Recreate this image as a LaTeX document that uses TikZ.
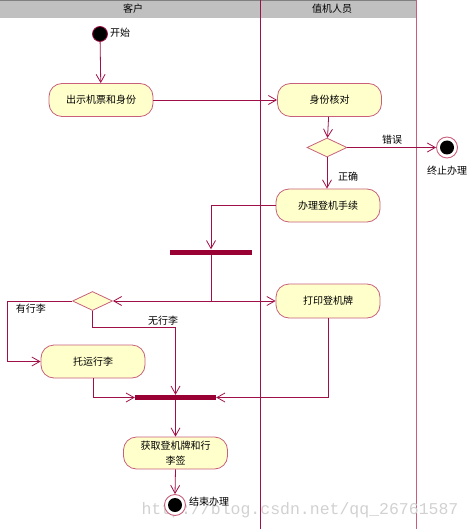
\documentclass[tikz,border=0pt]{standalone}
\usepackage{fontspec}
\newfontfamily\cjk{Noto Sans CJK SC}
\newfontfamily\wmfont{Liberation Mono}
\usetikzlibrary{arrows.meta,shapes.geometric}
\definecolor{lineC}{HTML}{A01048}
\definecolor{borderC}{HTML}{C8607C}
\definecolor{fillC}{HTML}{FFFFCC}
\definecolor{barC}{HTML}{990033}
\definecolor{headC}{HTML}{C0C0C0}
\begin{document}
\begin{tikzpicture}[x=1pt,y=-1pt,
  every node/.style={font=\cjk\fontsize{10}{13}\selectfont},
  act/.style={draw=borderC,fill=fillC,line width=0.8pt,rounded corners=13pt,minimum width=104pt,minimum height=33pt,inner sep=1pt,align=center},
  dec/.style={draw=borderC,fill=fillC,line width=0.8pt,diamond,aspect=2.1,minimum width=40pt,minimum height=19pt,inner sep=0pt},
  bar/.style={fill=barC,draw=none,minimum width=82pt,minimum height=5pt,inner sep=0pt},
  flow/.style={draw=lineC,line width=0.8pt,-{Straight Barb[length=8pt,width=9pt]}},
  line/.style={draw=lineC,line width=0.8pt},
  lbl/.style={inner sep=1pt},
  startC/.style={circle,fill=black,draw=lineC,line width=0.8pt,minimum size=15pt,inner sep=0pt},
  endC/.style={circle,draw=borderC,line width=0.9pt,fill=white,minimum size=21pt,inner sep=0pt,
     path picture={\fill[black] (path picture bounding box.center) circle (7pt);}}
]
\useasboundingbox (0,0) rectangle (472,529);
% swimlanes
\fill[headC] (0,0) rectangle (417,18);
\draw[gray,line width=0.8pt] (0,0.4) -- (417,0.4);
\draw[lineC,line width=0.9pt] (260,0) -- (260,529);
\draw[borderC,line width=0.9pt] (416.5,0) -- (416.5,529);
\node (h1) at (133,9) {客户};
\node (h2) at (332,9) {值机人员};
% watermark
\node[font=\wmfont\fontsize{16.5}{18}\selectfont,text=black!18] (wm) at (300,510) {http://blog.csdn.net/qq\_26761587};
% nodes
\node[startC] (start) at (100,34) {};
\node[lbl,anchor=west] (startL) at (109,33) {开始};
\node[act] (a1) at (101,100) {出示机票和身份};
\node[act] (a2) at (329.5,100) {身份核对};
\node[dec] (d1) at (327,147.5) {};
\node[endC] (endx) at (447,147.5) {};
\node[lbl] (endxL) at (447,171) {终止办理};
\node[act] (a3) at (328,205.5) {办理登机手续};
\node[bar] (bar1) at (211,252) {};
\node[dec] (d2) at (92.5,301) {};
\node[act,minimum height=34pt] (a4) at (328,301) {打印登机牌};
\node[act] (a5) at (93,361.5) {托运行李};
\node[bar,minimum width=81pt] (bar2) at (175.5,397.5) {};
\node[act,minimum height=32pt] (a6) at (175.5,453) {获取登机牌和行\\[2pt]李签};
\node[endC] (end2) at (175,505) {};
\node[lbl,anchor=west] (end2L) at (188,502) {结束办理};
% connectors
\draw[flow] (start) -- (a1);
\draw[flow] (a1) -- (a2);
\draw[flow] (a2) -- (d1);
\draw[flow] (d1.east) -- (endx.west);
\node[lbl] (errL) at (392,140) {错误};
\draw[flow] (d1.south) -- (a3.north -| d1.south);
\node[lbl] (okL) at (348,177) {正确};
\draw[flow] (a3.west) -| (bar1.north);
\coordinate (j) at (bar1.south |- a4.west);
\draw[line] (bar1.south) -- (j);
\draw[flow] (j) -- (d2.east);
\draw[flow] (j) -- (a4.west);
\draw[flow] (d2.west) -- ++(-65,0) |- (a5.west);
\node[lbl] (yesL) at (31,309) {有行李};
\draw[flow] (d2.south) -- ++(0,16) -| (bar2.north);
\node[lbl] (noL) at (163,321) {无行李};
\draw[flow] (a5.south) |- (bar2.west);
\draw[flow] (a4.south) |- (bar2.east);
\draw[flow] (bar2.south) -- (a6.north);
\draw[flow] (a6.south) -- (end2.north);
\end{tikzpicture}
\end{document}
